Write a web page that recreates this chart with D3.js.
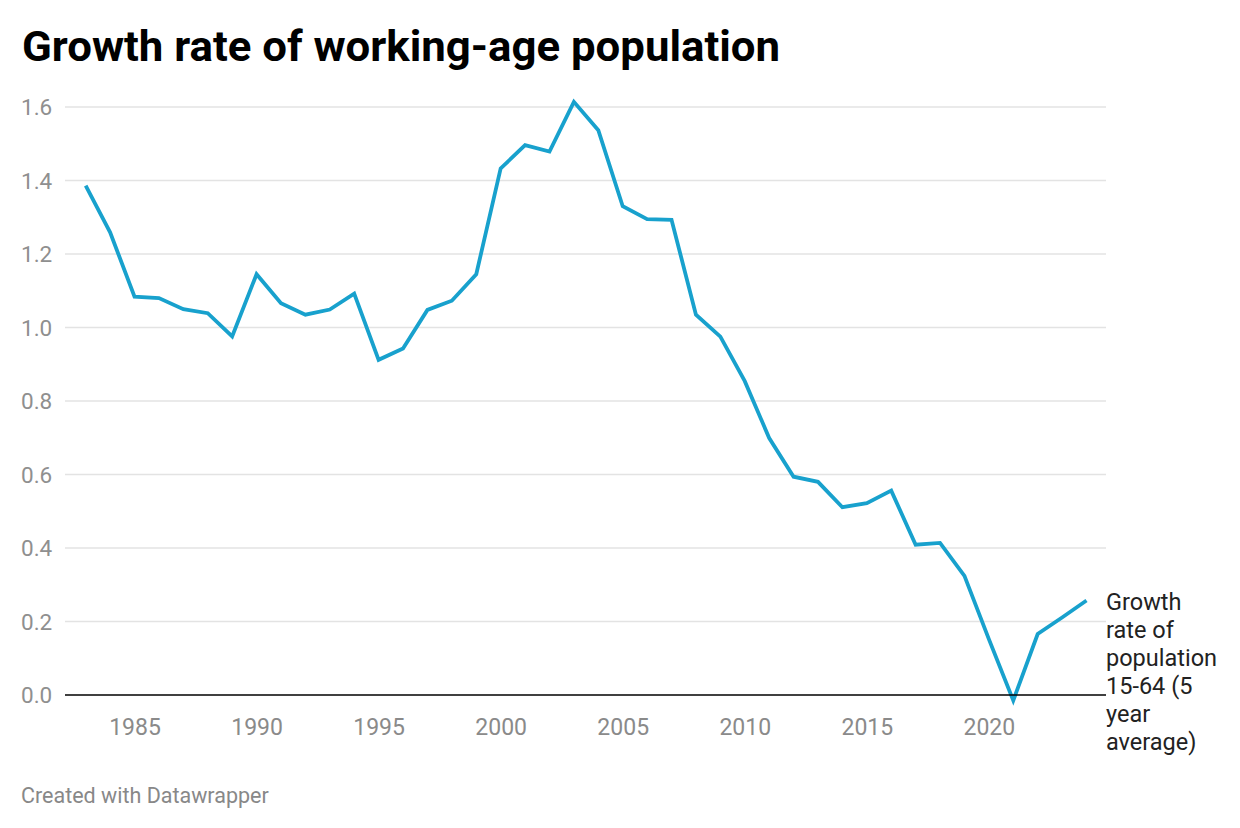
<!DOCTYPE html>
<html><head><meta charset="utf-8">
<script src="https://cdn.jsdelivr.net/npm/d3@7"></script>
<style>
body{margin:0;background:#fff;}
text{font-family:Roboto,"Noto Sans",sans-serif;}
</style></head>
<body><svg id="c" width="1240" height="828"></svg>
<script>
const years = [1983,1984,1985,1986,1987,1988,1989,1990,1991,1992,1993,1994,1995,1996,1997,1998,1999,2000,2001,2002,2003,2004,2005,2006,2007,2008,2009,2010,2011,2012,2013,2014,2015,2016,2017,2018,2019,2020,2021,2022,2023,2024];
const growth = [1.386,1.259,1.084,1.080,1.050,1.039,0.976,1.145,1.066,1.035,1.049,1.092,0.912,0.943,1.048,1.073,1.145,1.433,1.496,1.479,1.614,1.537,1.330,1.295,1.293,1.035,0.975,0.854,0.699,0.594,0.580,0.511,0.522,0.556,0.409,0.414,0.324,0.152,-0.015,0.166,0.211,0.257];
const yTicks = [0,0.2,0.4,0.6,0.8,1.0,1.2,1.4,1.6];
const xTicks = [1985,1990,1995,2000,2005,2010,2015,2020];
const title = "Growth rate of working-age population";
const seriesLabel = ["Growth","rate of","population","15-64 (5","year","average)"];
const credit = "Created with Datawrapper";

const svg = d3.select("#c");
const x = d3.scaleLinear().domain([1983,2024]).range([85.7,1086.5]);
const y = d3.scaleLinear().domain([0,1.6]).range([695,107]);
const left = 65, right = 1106;

svg.append("text").attr("x",22).attr("y",61).attr("font-size",42).attr("font-weight",700)
  .attr("fill","#000").attr("textLength",758).attr("lengthAdjust","spacingAndGlyphs").text(title);

const gy = svg.append("g");
yTicks.forEach(t=>{
  if(t!==0) gy.append("line").attr("x1",left).attr("x2",right).attr("y1",y(t)).attr("y2",y(t))
    .attr("stroke","#e3e3e3").attr("stroke-width",1.5);
  gy.append("text").attr("x",21).attr("y",y(t)).attr("dy","0.36em").attr("font-size",22.5)
    .attr("fill","#8f8f8f").text(d3.format(".1f")(t));
});

const xAxis = d3.axisBottom(x).tickValues(xTicks).tickFormat(d3.format("d")).tickSize(0).tickPadding(0);
const gx = svg.append("g").attr("transform",`translate(0,${y(0)})`).call(xAxis);
gx.select(".domain").remove();
gx.selectAll("text").attr("font-size",23).attr("fill","#8a8a8a").attr("font-family","Roboto").attr("dy",0).attr("y",40);

const line = d3.line().x((d,i)=>x(years[i])).y(d=>y(d));
svg.append("path").datum(growth).attr("d",line).attr("fill","none")
  .attr("stroke","#18a1cd").attr("stroke-width",3.8).attr("stroke-linejoin","miter");

svg.append("line").attr("x1",left).attr("x2",right).attr("y1",y(0)).attr("y2",y(0))
  .attr("stroke","#000").attr("stroke-width",1.5);

const lbl = svg.append("text").attr("x",1106).attr("y",610).attr("font-size",23.5).attr("fill","#222");
seriesLabel.forEach((s,i)=>lbl.append("tspan").attr("x",1106).attr("dy",i?28:0).text(s));

svg.append("text").attr("x",21).attr("y",803).attr("font-size",21.5).attr("fill","#888").text(credit);
</script></body></html>
